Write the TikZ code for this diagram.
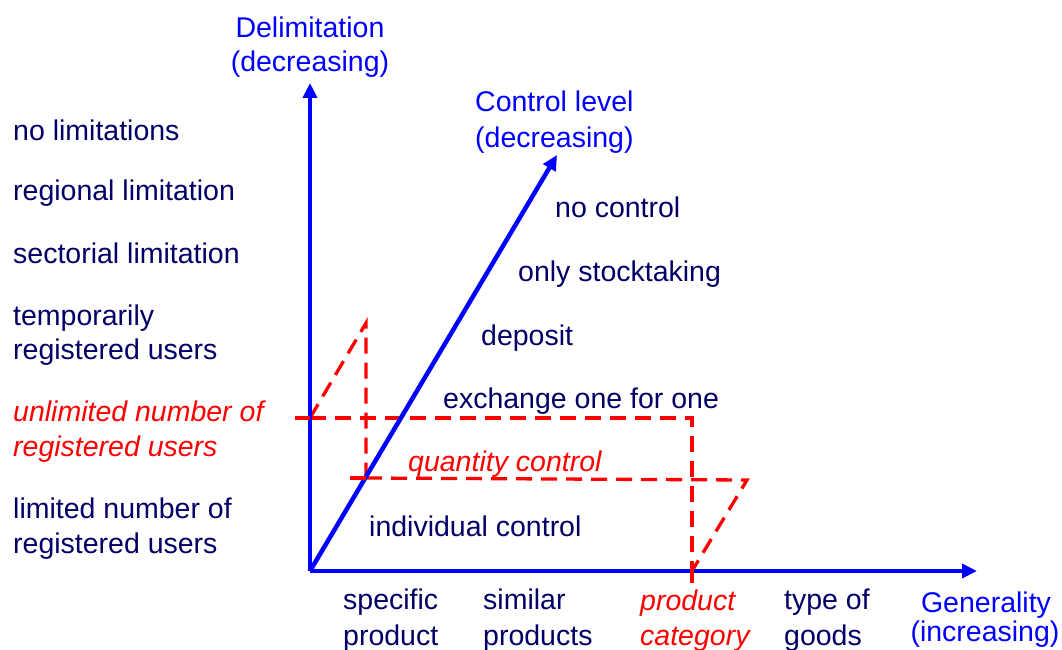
\documentclass[tikz,border=0pt]{standalone}
\usepackage{fontspec}
\setmainfont{Liberation Sans}
\usetikzlibrary{arrows.meta}
\definecolor{navy}{RGB}{0,0,102}
\definecolor{axisblue}{RGB}{0,0,255}
\definecolor{markred}{RGB}{255,0,0}

\begin{document}
\begin{tikzpicture}[x=1pt,y=-1pt,
  lbl/.style={anchor=base west, inner sep=0pt, font=\fontsize{28.5}{35}\selectfont, text=navy},
  hl/.style={anchor=base west, inner sep=0pt, font=\fontsize{28.5}{35}\selectfont\itshape, text=markred},
  axlbl/.style={anchor=base, inner sep=0pt, font=\fontsize{28.5}{35}\selectfont, text=axisblue},
  axline/.style={draw=axisblue, line width=4.5pt, -{Triangle[length=15pt,width=14pt]}},
  guide/.style={draw=markred, line width=3.3pt, dash pattern=on 16pt off 9pt},
  marktick/.style={draw=markred, line width=3.5pt}]

\useasboundingbox (0,0) rectangle (1062,650);

% axis end points
\coordinate (O) at (310,571);
\coordinate (ytip) at (310,83);
\coordinate (xtip) at (977,571);
\coordinate (ztip) at (557,155);

% guide points of the highlighted box
\coordinate (ya) at (310,418);
\coordinate (yt) at (295,418);
\coordinate (za) at (366,478);
\coordinate (zt) at (350,478);
\coordinate (top) at (366,323);
\coordinate (ya2) at (692,418);
\coordinate (za2) at (747,480);
\coordinate (xa) at (692,571);
\coordinate (xt1) at (692,563);
\coordinate (xt2) at (692,583);

% dashed guides
\draw[guide] (ya) -- (ya2) -- (xa);
\draw[guide] (ya) -- (top) -- (za);
\draw[guide] (za) -- (za2) -- (xa);

% axes
\draw[axline] (O) -- (ytip);
\draw[axline] (O) -- (xtip);
\draw[axline] (O) -- (ztip);

% ticks on the axes
\draw[marktick] (yt) -- (ya);
\draw[marktick] (zt) -- (za);
\draw[marktick] (xt1) -- (xt2);

% axis titles
\node[axlbl] (ytitle1) at (310,38) {Delimitation};
\node[axlbl] (ytitle2) at (310,72) {(decreasing)};
\node[axlbl, anchor=base west] (ztitle1) at (475,112) {Control level};
\node[axlbl, anchor=base west] (ztitle2) at (475,147) {(decreasing)};
\node[axlbl] (xtitle1) at (986,612) {Generality};
\node[axlbl] (xtitle2) at (985,641) {(increasing)};

% delimitation levels
\node[lbl] (d1) at (13,140) {no limitations};
\node[lbl] (d2) at (13,200) {regional limitation};
\node[lbl] (d3) at (13,263) {sectorial limitation};
\node[lbl] (d4a) at (13,325) {temporarily};
\node[lbl] (d4b) at (13,359) {registered users};
\node[hl] (d5a) at (13,421) {unlimited number of};
\node[hl] (d5b) at (13,456) {registered users};
\node[lbl] (d6a) at (13,518) {limited number of};
\node[lbl] (d6b) at (13,553) {registered users};

% control levels
\node[lbl] (c1) at (555,217) {no control};
\node[lbl] (c2) at (518,281) {only stocktaking};
\node[lbl] (c3) at (481,345) {deposit};
\node[lbl] (c4) at (443,408) {exchange one for one};
\node[hl] (c5) at (408,471) {quantity control};
\node[lbl] (c6) at (369,536) {individual control};

% generality levels
\node[lbl] (g1a) at (343,609) {specific};
\node[lbl] (g1b) at (343,645) {product};
\node[lbl] (g2a) at (483,609) {similar};
\node[lbl] (g2b) at (483,645) {products};
\node[hl] (g3a) at (640,610) {product};
\node[hl] (g3b) at (640,645) {category};
\node[lbl] (g4a) at (784,609) {type of};
\node[lbl] (g4b) at (784,645) {goods};
\end{tikzpicture}
\end{document}
